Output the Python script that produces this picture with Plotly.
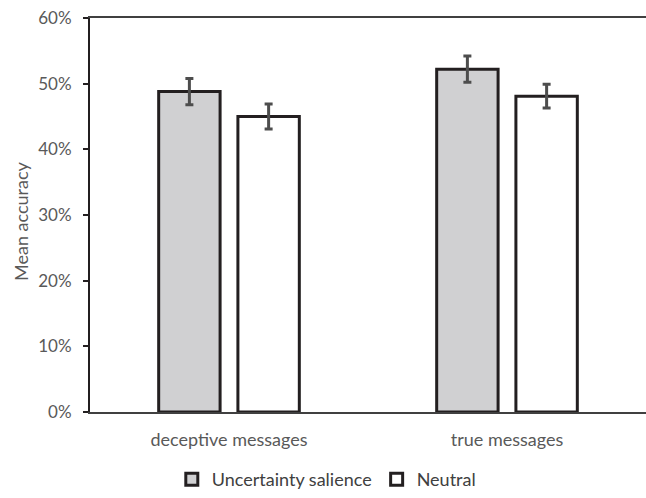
import plotly.graph_objects as go

categories = ["deceptive messages", "true messages"]
uncertainty = [0.488, 0.522]
uncertainty_err = [0.020, 0.020]
neutral = [0.450, 0.481]
neutral_err = [0.019, 0.018]
tick_vals = [0, 0.1, 0.2, 0.3, 0.4, 0.5, 0.6]
tick_text = ["0%", "10%", "20%", "30%", "40%", "50%", "60%"]
y_title = "Mean accuracy"

font_fam = "Lato, Open Sans, sans-serif"
txt_col = "#595959"

fig = go.Figure()
fig.add_trace(go.Bar(
    x=categories, y=uncertainty, name="Uncertainty salience",
    marker=dict(color="#d0d0d2", line=dict(color="#231f20", width=3)),
    error_y=dict(type="data", array=uncertainty_err, color="#4d4d4d", thickness=3, width=4),
))
fig.add_trace(go.Bar(
    x=categories, y=neutral, name="Neutral",
    marker=dict(color="#ffffff", line=dict(color="#231f20", width=3)),
    error_y=dict(type="data", array=neutral_err, color="#4d4d4d", thickness=3, width=4),
))

fig.update_layout(
    width=646, height=498,
    margin=dict(l=90, r=0, t=18, b=80),
    paper_bgcolor="white", plot_bgcolor="white",
    barmode="group", bargap=0.43, bargroupgap=0.225,
    font=dict(family=font_fam, size=17, color=txt_col),
    showlegend=True,
    legend=dict(orientation="h", x=0.425, xanchor="center", y=-0.172, yanchor="middle",
                font=dict(size=18, color="#404040"), traceorder="normal"),
    xaxis=dict(showline=True, linecolor="#404040", linewidth=2, mirror=True,
               ticks="", showgrid=False, ticklabelstandoff=10,
               tickfont=dict(size=18, color=txt_col)),
    yaxis=dict(range=[0, 0.6], tickvals=tick_vals, ticktext=tick_text,
               showline=True, linecolor="#231f20", linewidth=2,
               ticks="outside", ticklen=5, tickcolor="#231f20", tickwidth=2,
               ticklabelstandoff=8,
               showgrid=False, zeroline=False, tickfont=dict(size=17, color=txt_col)),
    annotations=[dict(text=y_title, xref="paper", yref="paper", x=-0.124, y=0.4825,
                      textangle=-90, showarrow=False, xanchor="center", yanchor="middle",
                      font=dict(size=18, color=txt_col))],
)

fig.write_html("out.html", config={"displayModeBar": False},
               post_script="document.body.style.margin='0';document.body.style.overflow='hidden';")
